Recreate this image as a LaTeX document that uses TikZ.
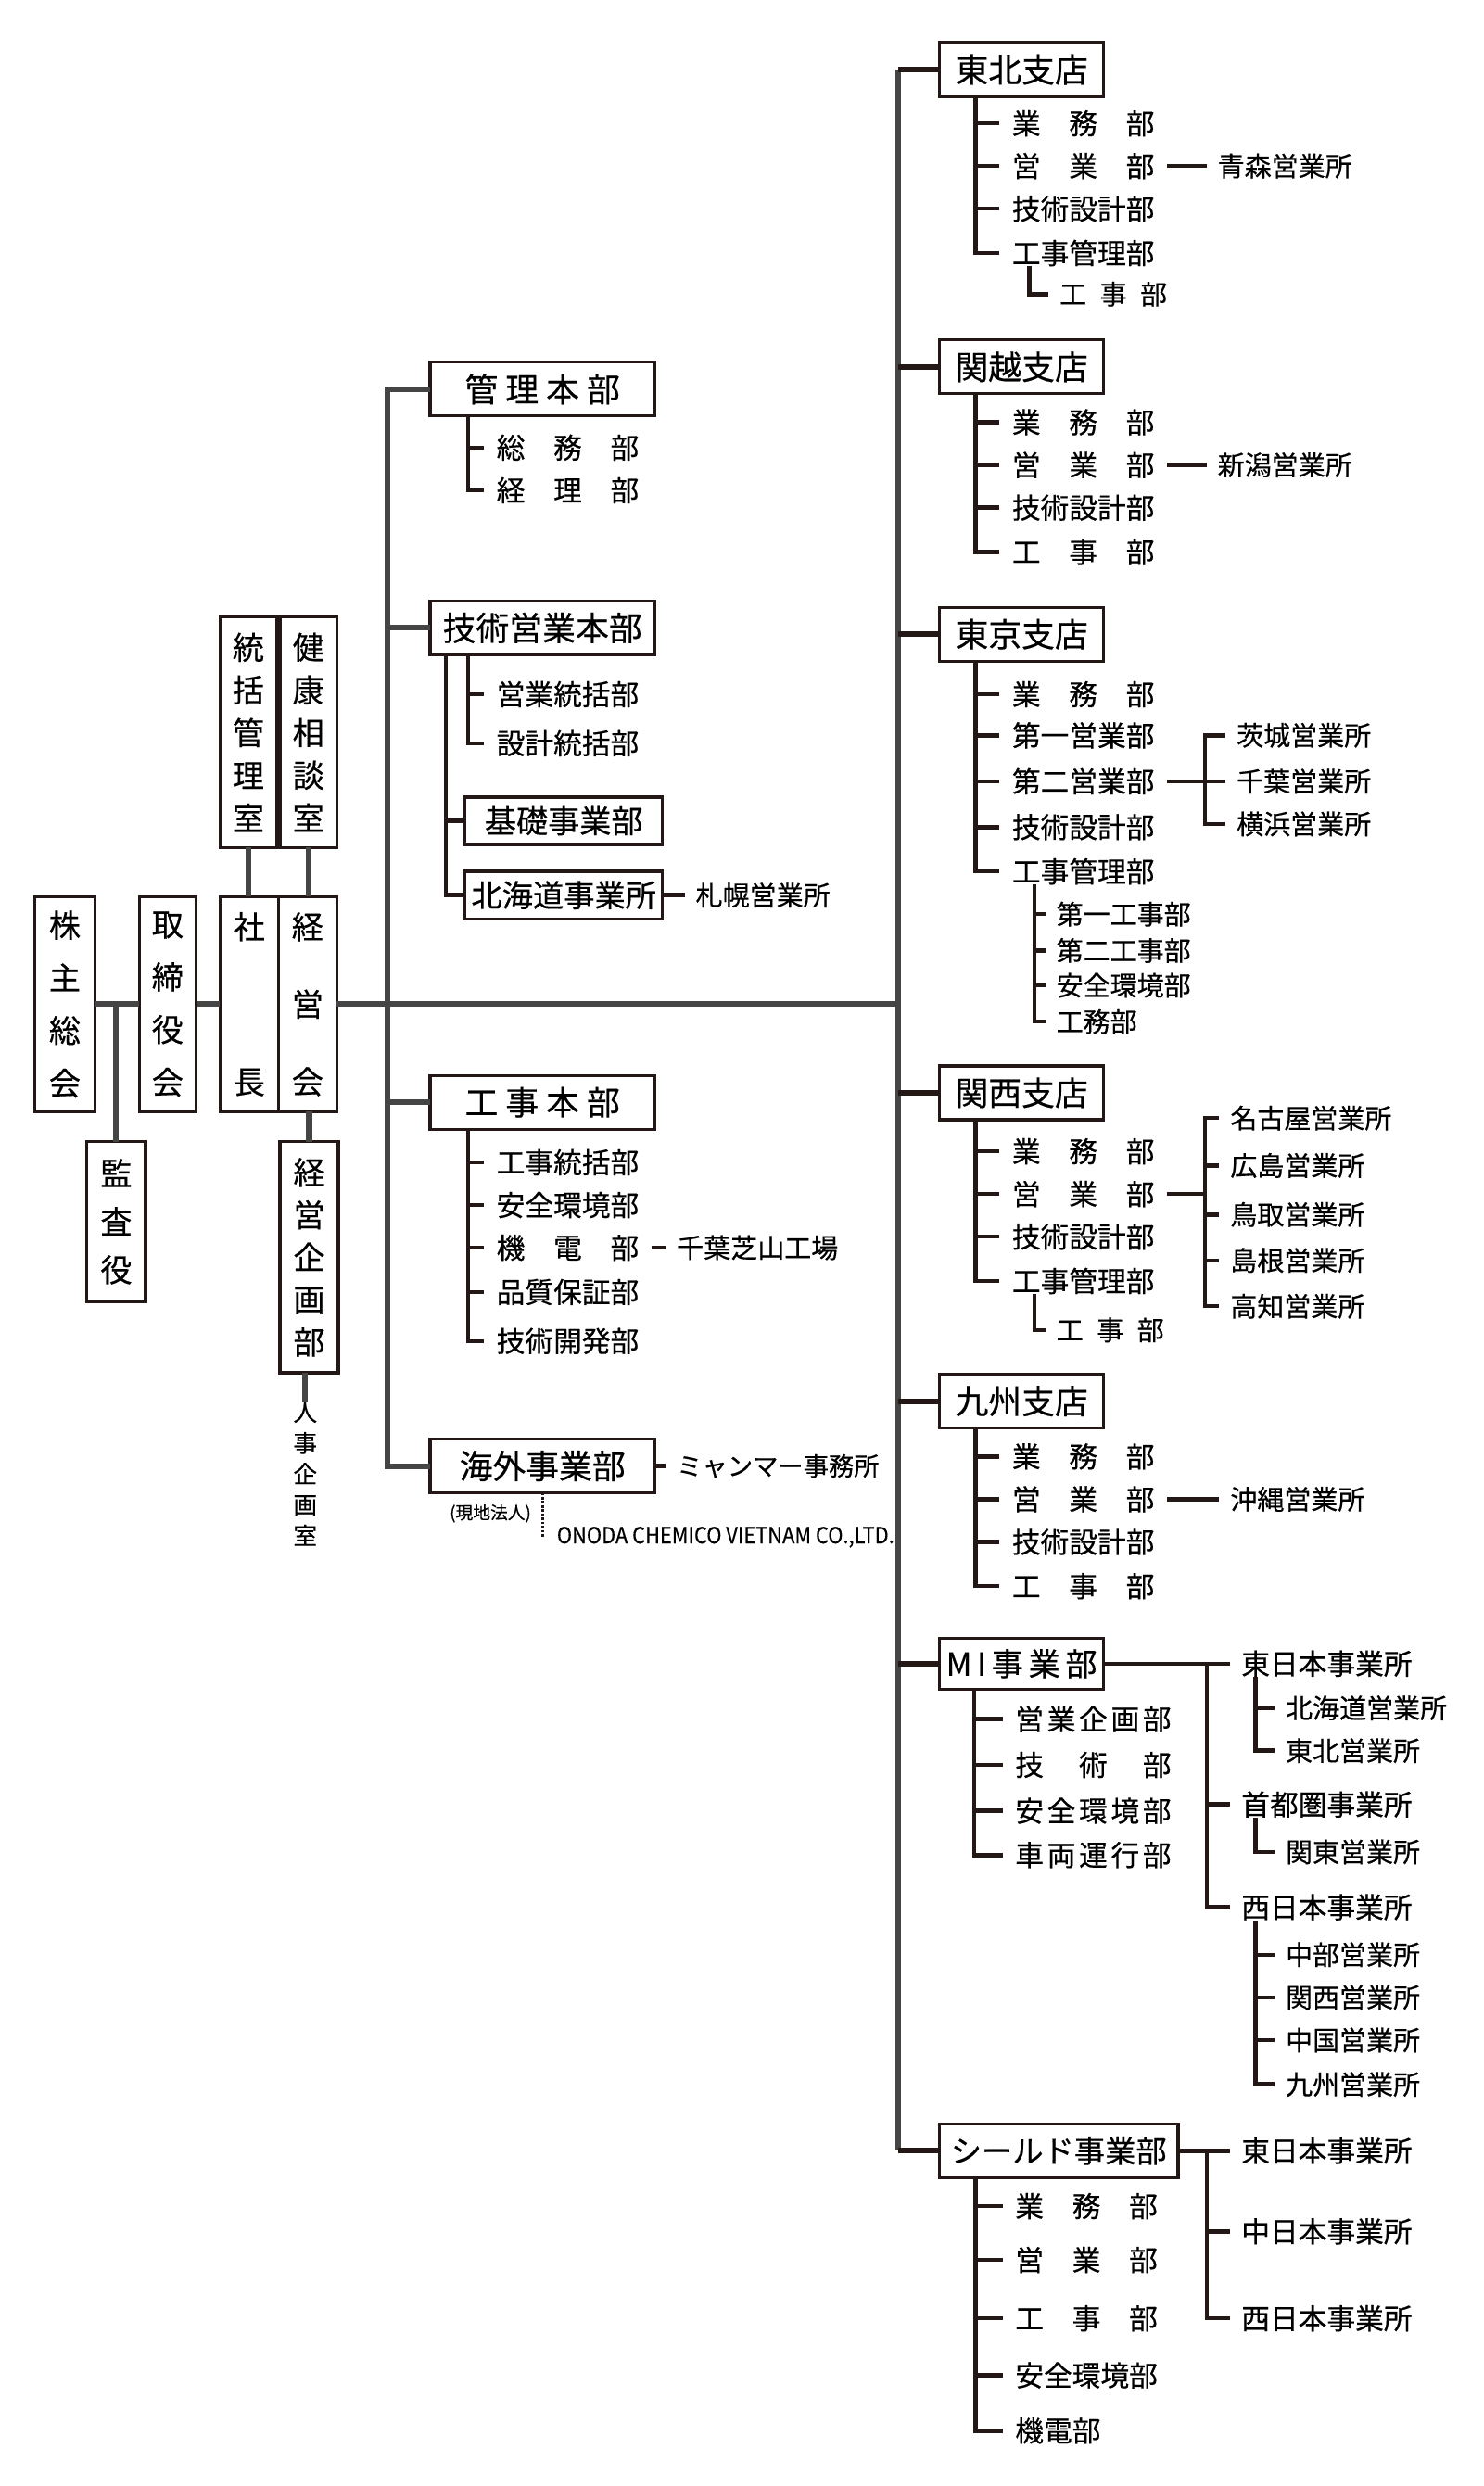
\documentclass[tikz,border=0pt]{standalone}
\usepackage{fontspec}
\setmainfont{Noto Sans CJK JP}[FakeBold=0.45]
\newfontfamily\jpwide[LetterSpace=12, FakeBold=0.45]{Noto Sans CJK JP}
\usepackage{tikz}
\newcommand{\jpsize}[2]{\fontsize{#1}{#2}\selectfont}
\definecolor{trunkgray}{HTML}{454545}
\definecolor{inkdark}{HTML}{231815}
\tikzstyle{orgchart}=[x=1pt, y=-1pt,
                      % Text sits on white, everything in one ink.
                      every node/.style={text=black}]
\tikzstyle{unit}=[draw=inkdark, line width=1.9pt, inner sep=0, outer sep=0, minimum height=34pt, anchor=west, font=\jpsize{21}{21}]
\tikzstyle{vunit}=[draw=inkdark, line width=1.9pt, inner sep=0, outer sep=0, anchor=north west, align=center]
\tikzstyle{item}=[inner sep=0, outer xsep=8pt, outer ysep=0, anchor=west, font=\jpsize{18}{18}]
\tikzstyle{subitem}=[item, outer xsep=7pt, font=\jpsize{17}{17}]
\tikzstyle{office}=[subitem]
\tikzstyle{site}=[item, outer xsep=7pt]
\tikzstyle{trunk}=[draw=trunkgray, line width=3.6pt]
\tikzstyle{branch}=[draw=inkdark, line width=3.4pt]
\tikzstyle{sub}=[draw=inkdark, line width=2.6pt]
\tikzstyle{local}=[draw=inkdark, line width=1.6pt, densely dotted]

\begin{document}
\begin{tikzpicture}[orgchart]
    \useasboundingbox (0,0) rectangle (938,1572);
    % top management
    \node[vunit, minimum width=38pt, minimum height=136pt, font=\jpsize{20}{33.3}] (KB) at (22,567) {株\\主\\総\\会};
    \node[vunit, minimum width=37pt, minimum height=101pt, font=\jpsize{20}{30.5}] (KA) at (55,722) {監\\査\\役};
    \node[vunit, minimum width=36pt, minimum height=136pt, font=\jpsize{20}{33.3}] (TR) at (88,567) {取\\締\\役\\会};
    \node[vunit, minimum width=37pt, minimum height=136pt, font=\jpsize{20}{98}]   (SC) at (139,567) {社\\長};
    \node[vunit, minimum width=37pt, minimum height=136pt, font=\jpsize{20}{49}]   (KE) at (176,567) {経\\営\\会};
    \node[vunit, minimum width=36pt, minimum height=146pt, font=\jpsize{20}{27}]   (TO) at (139,390) {統\\括\\管\\理\\室};
    \node[vunit, minimum width=36pt, minimum height=146pt, font=\jpsize{20}{27}]   (KK) at (177,390) {健\\康\\相\\談\\室};
    \node[vunit, minimum width=37pt, minimum height=146pt, font=\jpsize{20}{26.8}] (KP) at (177,722) {経\\営\\企\\画\\部};
    \node[inner sep=0, align=center, font=\jpsize{15}{19.5}] (JK) at (193,932) {人\\事\\企\\画\\室};
    \coordinate (L) at (245,635);
    \coordinate (R) at (568,635);
    \draw[trunk] (KB.east) -- (TR.west);
    \draw[trunk] (KA.north) -- (KA.north |- KB.east);
    \draw[trunk] (TR.east) -- (SC.west);
    \draw[trunk] (TO.south) -- (TO.south |- SC.north);
    \draw[trunk] (KK.south) -- (KK.south |- KE.north);
    \draw[trunk] (KP.north |- KE.south) -- (KP.north);
    \draw[trunk] (KP.south -| JK.north) -- (JK.north);
    \draw[trunk] (KE.east) -- (R);

    % head offices
    \node[unit, minimum width=142pt] (KR) at (272,246) {管 理 本 部};
    \node[item] (KR1) at (306,283) {総　務　部};
    \node[item] (KR2) at (306,310) {経　理　部};
    \node[unit, minimum width=142pt] (GE) at (272,397) {技術営業本部};
    \node[item] (GE1) at (306,439) {営業統括部};
    \node[item] (GE2) at (306,470) {設計統括部};
    \node[unit, minimum width=125pt, minimum height=30pt, font=\jpsize{20}{20}]   (KI) at (294,519) {基礎事業部};
    \node[unit, minimum width=125pt, minimum height=30pt, font=\jpsize{19.5}{20}] (HK) at (294,566) {北海道事業所};
    \node[office] (HK1) at (433,566) {札幌営業所};
    \node[unit, minimum width=142pt] (KJ) at (272,697) {工 事 本 部};
    \node[item] (KJ1) at (306,735) {工事統括部};
    \node[item] (KJ2) at (306,762) {安全環境部};
    \node[item] (KJ3) at (306,789) {機　電　部};
    \node[item] (KJ4) at (306,817) {品質保証部};
    \node[item] (KJ5) at (306,848) {技術開発部};
    \node[office] (KJ6) at (421,789) {千葉芝山工場};
    \node[unit, minimum width=142pt] (KG) at (272,927) {海外事業部};
    \node[office, font=\jpsize{16}{16}] (KG1) at (421,927) {ミャンマー事務所};
    \node[inner sep=0, anchor=east, font=\jpsize{11}{11}] (GC) at (336,957) {(現地法人)};
    \node[inner sep=0, anchor=west, font=\jpsize{14}{14}] (ON) at (352,972) {\scalebox{0.915}[1]{ONODA CHEMICO VIETNAM CO.,LTD.}};
    \draw[trunk] (KR.west) -| (L) |- (KG.west);
    \draw[trunk] (GE.west -| L) -- (GE.west);
    \draw[trunk] (KJ.west -| L) -- (KJ.west);
    \foreach \i in {1,2} \draw[sub] (KR.south west) ++(24,0) |- (KR\i.west);
    \foreach \i in {1,2} \draw[sub] (GE.south west) ++(24,0) |- (GE\i.west);
    \draw[sub] (GE.south west) ++(10,0) |- (KI.west);
    \draw[sub] (GE.south west) ++(10,0) |- (HK.west);
    \draw[sub] (HK.east) -- (HK1.west);
    \foreach \i in {1,...,5} \draw[sub] (KJ.south west) ++(24,0) |- (KJ\i.west);
    \draw[sub] (KJ3.east) -- (KJ6.west);
    \draw[sub] (KG.east) -- (KG1.west);
    \draw[local] (KG.south) -- (KG.south |- ON.west);

    % 東北支店
    \node[unit, minimum width=104pt] (TH) at (594,44) {東北支店};
    \node[item] (TH1) at (632,78) {業　務　部};
    \node[item] (TH2) at (632,105) {営　業　部};
    \node[item] (TH3) at (632,132) {技術設計部};
    \node[item] (TH4) at (632,160) {工事管理部};
    \node[subitem] (TH5) at (663,186) {工\enspace 事\enspace 部};
    \node[office] (TH6) at (763,105) {青森営業所};
    \foreach \i in {1,...,4} \draw[sub] (TH.south west) ++(23,0) |- (TH\i.west);
    \draw[sub] (TH4.south west) ++(19,0) |- (TH5.west);
    \draw[sub] (TH2.east) -- (TH6.west);

    % 関越支店
    \node[unit, minimum width=104pt] (KN) at (594,232) {関越支店};
    \node[item] (KN1) at (632,267) {業　務　部};
    \node[item] (KN2) at (632,294) {営　業　部};
    \node[item] (KN3) at (632,321) {技術設計部};
    \node[item] (KN4) at (632,349) {工　事　部};
    \node[office] (KN5) at (763,294) {新潟営業所};
    \foreach \i in {1,...,4} \draw[sub] (KN.south west) ++(23,0) |- (KN\i.west);
    \draw[sub] (KN2.east) -- (KN5.west);

    % 東京支店
    \node[unit, minimum width=104pt] (TY) at (594,401) {東京支店};
    \node[item] (TY1) at (632,439) {業　務　部};
    \node[item] (TY2) at (632,465) {第一営業部};
    \node[item] (TY3) at (632,494) {第二営業部};
    \node[item] (TY4) at (632,523) {技術設計部};
    \node[item] (TY5) at (632,551) {工事管理部};
    \node[subitem] (TY6) at (661,578) {第一工事部};
    \node[subitem] (TY7) at (661,601) {第二工事部};
    \node[subitem] (TY8) at (661,623) {安全環境部};
    \node[subitem] (TY9) at (661,646) {工務部};
    \node[office] (TYa) at (775,465) {茨城営業所};
    \node[office] (TYb) at (775,494) {千葉営業所};
    \node[office] (TYc) at (775,521) {横浜営業所};
    \coordinate (TYj) at (762,494);
    \foreach \i in {1,...,5} \draw[sub] (TY.south west) ++(23,0) |- (TY\i.west);
    \foreach \i in {6,...,9} \draw[sub] (TY5.south west) ++(22,0) |- (TY\i.west);
    \draw[sub] (TY3.east) -- (TYj);
    \foreach \i in {a,b,c} \draw[sub] (TYj) |- (TY\i.west);

    % 関西支店
    \node[unit, minimum width=104pt] (KS) at (594,691) {関西支店};
    \node[item] (KS1) at (632,728) {業　務　部};
    \node[item] (KS2) at (632,755) {営　業　部};
    \node[item] (KS3) at (632,782) {技術設計部};
    \node[item] (KS4) at (632,810) {工事管理部};
    \node[subitem] (KS5) at (661,841) {工\enspace 事\enspace 部};
    \node[office] (KSa) at (771,707) {名古屋営業所};
    \node[office] (KSb) at (771,737) {広島営業所};
    \node[office] (KSc) at (771,768) {鳥取営業所};
    \node[office] (KSd) at (771,797) {島根営業所};
    \node[office] (KSe) at (771,826) {高知営業所};
    \coordinate (KSj) at (762,755);
    \foreach \i in {1,...,4} \draw[sub] (KS.south west) ++(23,0) |- (KS\i.west);
    \draw[sub] (KS4.south west) ++(22,0) |- (KS5.west);
    \draw[sub] (KS2.east) -- (KSj);
    \foreach \i in {a,...,e} \draw[sub] (KSj) |- (KS\i.west);

    % 九州支店
    \node[unit, minimum width=104pt] (KY) at (594,886) {九州支店};
    \node[item] (KY1) at (632,921) {業　務　部};
    \node[item] (KY2) at (632,948) {営　業　部};
    \node[item] (KY3) at (632,975) {技術設計部};
    \node[item] (KY4) at (632,1003) {工　事　部};
    \node[office] (KY5) at (771,948) {沖縄営業所};
    \foreach \i in {1,...,4} \draw[sub] (KY.south west) ++(23,0) |- (KY\i.west);
    \draw[sub] (KY2.east) -- (KY5.west);

    % MI事業部
    \node[unit, minimum width=104pt, minimum height=32pt, font=\jpsize{20}{20}] (MI) at (594,1052) {M\,I\,事\,業\,部};
    \node[item, font=\jpwide\jpsize{18}{18}] (MI1) at (634,1087) {営業企画部};
    \node[item, font=\jpwide\jpsize{18}{18}] (MI2) at (634,1116) {技　術　部};
    \node[item, font=\jpwide\jpsize{18}{18}] (MI3) at (634,1145) {安全環境部};
    \node[item, font=\jpwide\jpsize{18}{18}] (MI4) at (634,1173) {車両運行部};
    \node[site] (MIa) at (778,1052) {東日本事業所};
    \node[site] (MIb) at (778,1141) {首都圏事業所};
    \node[site] (MIc) at (778,1206) {西日本事業所};
    \node[office] (MIa1) at (806,1080) {北海道営業所};
    \node[office] (MIa2) at (806,1107) {東北営業所};
    \node[office] (MIb1) at (806,1171) {関東営業所};
    \node[office] (MIc1) at (806,1236) {中部営業所};
    \node[office] (MIc2) at (806,1263) {関西営業所};
    \node[office] (MIc3) at (806,1290) {中国営業所};
    \node[office] (MIc4) at (806,1318) {九州営業所};
    \coordinate (MIj) at (763,1052);
    \foreach \i in {1,...,4} \draw[sub] (MI.south west) ++(22,0) |- (MI\i.west);
    \draw[sub] (MI.east) -- (MIa.west);
    \draw[sub] (MIj) |- (MIb.west);
    \draw[sub] (MIj) |- (MIc.west);
    \foreach \i in {1,2} \draw[sub] (MIa.south west) ++(16,0) |- (MIa\i.west);
    \draw[sub] (MIb.south west) ++(16,0) |- (MIb1.west);
    \foreach \i in {1,...,4} \draw[sub] (MIc.south west) ++(16,0) |- (MIc\i.west);

    % シールド事業部
    \node[unit, minimum width=151pt, font=\jpsize{19.5}{20}] (SH) at (594,1360) {シールド事業部};
    \node[item] (SH1) at (634,1395) {業　務　部};
    \node[item] (SH2) at (634,1429) {営　業　部};
    \node[item] (SH3) at (634,1466) {工　事　部};
    \node[item] (SH4) at (634,1502) {安全環境部};
    \node[item] (SH5) at (634,1537) {機電部};
    \node[site] (SHa) at (778,1360) {東日本事業所};
    \node[site] (SHb) at (778,1411) {中日本事業所};
    \node[site] (SHc) at (778,1466) {西日本事業所};
    \coordinate (SHj) at (763,1360);
    \foreach \i in {1,...,5} \draw[sub] (SH.south west) ++(23,0) |- (SH\i.west);
    \draw[sub] (SH.east) -- (SHa.west);
    \draw[sub] (SHj) |- (SHb.west);
    \draw[sub] (SHj) |- (SHc.west);

    % right spine
    \draw[trunk] (TH.west -| R) -- (SH.west -| R);
    \foreach \b in {TH,KN,TY,KS,KY,MI,SH} \draw[branch] (\b.west -| R) -- (\b.west);
\end{tikzpicture}
\end{document}
